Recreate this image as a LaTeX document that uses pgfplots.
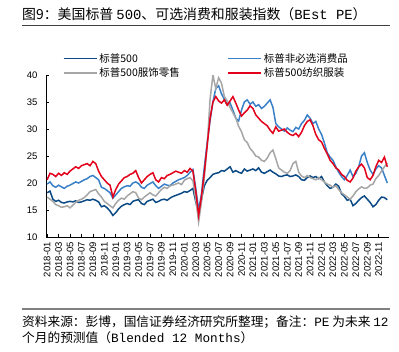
\documentclass[border=0pt]{standalone}
\usepackage{pgfplots}
\pgfplotsset{compat=1.18}
\usepackage{fontspec}
\setmainfont{Liberation Sans}
\newfontfamily\cjk{Noto Sans CJK SC}
\newfontfamily\mono{Liberation Mono}
\definecolor{cDB}{HTML}{0B4A84}
\definecolor{cLB}{HTML}{3A80C8}
\definecolor{cGR}{HTML}{A6A6A6}
\definecolor{cRD}{HTML}{E2001A}
\pgfplotstableread{
x y
0 18.2
0.5 18.5
1 17.0
1.5 16.6
2 16.8
2.5 16.4
3 16.3
3.5 16.5
4 16.6
4.5 16.5
5 16.7
5.5 16.4
6 16.5
6.5 16.7
7 16.9
7.5 16.8
8 17.0
8.5 16.8
9 16.5
9.5 15.6
10 15.8
10.5 15.4
11 14.8
11.5 14.0
12 14.5
12.5 15.2
13 15.7
13.5 16.0
14 16.2
14.5 16.0
15 16.6
15.5 16.8
16 16.9
16.5 16.2
17 16.0
17.5 16.6
18 16.8
18.5 17.0
19 16.4
19.5 16.6
20 16.9
20.5 17.0
21 16.8
21.5 17.2
22 17.5
22.5 17.7
23 17.9
23.5 18.1
24 18.4
24.5 18.3
25 18.6
25.5 19.0
26 16.5
26.5 14.3
27 17.0
27.5 19.5
28 20.5
28.5 21.0
29 21.6
29.5 21.8
30 21.9
30.5 22.3
31 22.2
31.5 22.6
32 23.0
32.5 22.0
33 22.3
33.5 22.0
34 21.8
34.5 22.6
35 22.2
35.5 22.4
36 22.6
36.5 22.3
37 22.8
37.5 22.0
38 21.8
38.5 22.1
39 22.4
39.5 22.0
40 21.7
40.5 21.3
41 21.2
41.5 21.4
42 21.5
42.5 21.2
43 21.3
43.5 21.5
44 21.2
44.5 20.6
45 20.5
45.5 21.0
46 21.3
46.5 21.0
47 21.2
47.5 20.8
48 21.2
48.5 20.2
49 19.5
49.5 19.0
50 19.2
50.5 19.8
51 19.4
51.5 18.0
52 17.5
52.5 16.8
53 17.0
53.5 15.8
54 16.2
54.5 16.8
55 17.3
55.5 17.6
56 17.0
56.5 16.4
57 15.6
57.5 16.0
58 16.8
58.5 17.4
59 17.3
59.5 16.9
}\spx
\pgfplotstableread{
x y
0 19.8
0.5 20.2
1 19.5
1.5 19.2
2 19.6
2.5 19.3
3 19.0
3.5 19.4
4 19.6
4.5 19.9
5 20.2
5.5 20.0
6 20.3
6.5 20.6
7 20.8
7.5 21.2
8 21.4
8.5 21.0
9 20.6
9.5 19.2
10 19.0
10.5 18.6
11 18.2
11.5 17.2
12 17.8
12.5 18.4
13 19.0
13.5 19.3
14 19.5
14.5 19.4
15 20.0
15.5 20.2
16 19.9
16.5 19.2
17 19.0
17.5 19.6
18 19.9
18.5 20.2
19 19.5
19.5 19.0
20 19.4
20.5 19.8
21 19.6
21.5 19.5
22 20.0
22.5 20.3
23 20.6
23.5 20.8
24 21.0
24.5 21.4
25 22.0
25.5 22.5
26 19.0
26.5 15.0
27 18.0
27.5 23.0
28 27.5
28.5 31.5
29 35.0
29.5 37.5
30 38.0
30.5 36.5
31 35.5
31.5 34.5
32 34.8
32.5 33.5
33 32.0
33.5 31.5
34 33.5
34.5 35.0
35 35.4
35.5 34.6
36 35.0
36.5 34.2
37 34.5
37.5 33.8
38 34.2
38.5 34.8
39 35.4
39.5 34.0
40 31.0
40.5 30.4
41 30.0
41.5 29.6
42 30.2
42.5 29.8
43 29.5
43.5 30.3
44 30.0
44.5 31.0
45 31.6
45.5 32.6
46 32.0
46.5 31.0
47 31.4
47.5 30.0
48 29.0
48.5 27.4
49 25.6
49.5 24.8
50 24.2
50.5 23.0
51 22.0
51.5 21.2
52 20.6
52.5 21.4
53 22.4
53.5 21.2
54 21.8
54.5 23.0
55 25.0
55.5 25.6
56 23.8
56.5 22.4
57 21.6
57.5 22.6
58 23.2
58.5 22.8
59 21.4
59.5 20.0
}\disc
\pgfplotstableread{
x y
0 17.4
0.5 17.0
1 16.6
1.5 16.0
2 15.8
2.5 15.5
3 15.6
3.5 15.8
4 15.4
4.5 15.9
5 16.4
5.5 16.8
6 17.0
6.5 17.3
7 17.8
7.5 18.4
8 18.6
8.5 18.8
9 18.0
9.5 17.4
10 16.6
10.5 16.2
11 15.8
11.5 15.4
12 16.2
12.5 16.8
13 17.2
13.5 17.0
14 17.6
14.5 18.0
15 18.4
15.5 18.2
16 17.2
16.5 16.9
17 17.4
17.5 17.8
18 18.2
18.5 17.8
19 17.6
19.5 18.2
20 18.8
20.5 19.2
21 19.0
21.5 19.5
22 19.6
22.5 19.8
23 20.0
23.5 19.7
24 20.5
24.5 20.8
25 21.0
25.5 20.4
26 17.0
26.5 12.8
27 16.5
27.5 21.0
28 27.0
28.5 35.5
29 40.0
29.5 37.5
30 39.5
30.5 38.5
31 36.0
31.5 35.2
32 34.0
32.5 33.0
33 32.0
33.5 30.5
34 29.5
34.5 28.0
35 27.5
35.5 26.4
36 25.8
36.5 25.0
37 24.8
37.5 24.2
38 24.0
38.5 24.6
39 25.6
39.5 26.1
40 24.5
40.5 22.8
41 22.4
41.5 22.0
42 21.8
42.5 22.3
43 23.6
43.5 24.0
44 22.0
44.5 21.3
45 21.0
45.5 21.4
46 21.0
46.5 20.8
47 20.6
47.5 21.0
48 20.6
48.5 20.2
49 19.8
49.5 19.6
50 19.2
50.5 19.5
51 18.8
51.5 18.2
52 17.8
52.5 17.4
53 17.0
53.5 17.6
54 18.4
54.5 18.9
55 19.3
55.5 19.0
56 19.1
56.5 19.6
57 19.8
57.5 20.8
58 21.4
58.5 22.2
59 23.0
59.5 23.7
}\retail
\pgfplotstableread{
x y
0 20.6
0.5 21.8
1 21.6
1.5 21.2
2 21.8
2.5 21.4
3 21.9
3.5 21.6
4 22.2
4.5 22.6
5 23.0
5.5 22.7
6 23.2
6.5 23.4
7 23.6
7.5 23.2
8 24.0
8.5 23.6
9 22.2
9.5 21.2
10 20.6
10.5 20.0
11 19.6
11.5 17.4
12 18.8
12.5 19.8
13 20.4
13.5 21.0
14 21.2
14.5 21.6
15 21.8
15.5 22.3
16 21.0
16.5 20.0
17 20.6
17.5 21.2
18 21.6
18.5 21.9
19 20.6
19.5 20.2
20 21.0
20.5 20.8
21 21.4
21.5 21.6
22 21.9
22.5 22.2
23 22.0
23.5 21.8
24 22.3
24.5 22.0
25 22.7
25.5 22.2
26 18.5
26.5 14.0
27 17.5
27.5 22.0
28 27.0
28.5 32.0
29 35.0
29.5 36.0
30 35.2
30.5 34.8
31 35.4
31.5 34.4
32 35.2
32.5 36.0
33 34.8
33.5 33.5
34 32.4
34.5 33.0
35 33.5
35.5 34.3
36 33.8
36.5 32.6
37 32.0
37.5 31.4
38 31.0
38.5 30.6
39 29.8
39.5 29.2
40 30.4
40.5 29.6
41 29.8
41.5 30.0
42 29.4
42.5 29.0
43 28.8
43.5 29.2
44 28.6
44.5 29.4
45 30.6
45.5 31.4
46 31.7
46.5 30.6
47 29.0
47.5 28.0
48 27.6
48.5 26.4
49 25.4
49.5 24.2
50 23.6
50.5 22.8
51 22.4
51.5 21.6
52 21.2
52.5 20.5
53 20.2
53.5 20.9
54 22.2
54.5 23.0
55 23.5
55.5 22.8
56 21.0
56.5 20.6
57 21.4
57.5 23.0
58 24.2
58.5 23.8
59 24.8
59.5 23.0
}\textile
\begin{document}
\begin{tikzpicture}
\path[use as bounding box] (0pt,0pt) rectangle (399pt,-351pt);
\node[anchor=west, inner sep=0pt, font=\cjk\fontsize{13.9}{15}\selectfont] at (22pt,-14pt)
  {图9：美国标普 {\mono 500}、可选消费和服装指数（{\mono BEst PE}）};
\draw[black!75, line width=0.8pt] (22pt,-25.5pt) -- (390pt,-25.5pt);
\draw[black!50, line width=1.5pt] (22pt,-309pt) -- (390pt,-309pt);
\node[anchor=west, inner sep=0pt, font=\cjk\fontsize{12.7}{14}\selectfont] at (22pt,-322pt)
  {资料来源：彭博，国信证券经济研究所整理；备注：{\mono PE} 为未来 {\mono 12}};
\node[anchor=west, inner sep=0pt, font=\cjk\fontsize{12.7}{14}\selectfont] at (22pt,-338pt)
  {个月的预测值（{\mono Blended 12 Months}）};
\begin{axis}[
  at={(46pt,-237pt)}, anchor=south west,
  scale only axis, width=343pt, height=162pt,
  xmin=-0.2, xmax=59.8, ymin=10, ymax=40,
  axis x line*=bottom, axis y line*=left,
  axis line style={black, line width=0.7pt},
  tick align=inside, major tick length=3.5pt,
  tick style={black, line width=0.6pt},
  xtick={0,2,...,58},
  xticklabels={2018-01,2018-03,2018-05,2018-07,2018-09,2018-11,
    2019-01,2019-03,2019-05,2019-07,2019-09,2019-11,
    2020-01,2020-03,2020-05,2020-07,2020-09,2020-11,
    2021-01,2021-03,2021-05,2021-07,2021-09,2021-11,
    2022-01,2022-03,2022-05,2022-07,2022-09,2022-11},
  x tick label style={rotate=90, anchor=east, font=\fontsize{9.5}{10}\selectfont, inner sep=1pt, xshift=-4pt},
  ytick={10,15,...,40},
  y tick label style={font=\fontsize{9.5}{10}\selectfont, xshift=-5pt},
  /pgf/number format/assume math mode=true,
  legend columns=2,
  legend cell align=left,
  legend image code/.code={\draw[#1] (0pt,0pt) -- (33pt,0pt);},
  legend style={at={(0.04,1.16)}, anchor=north west, draw=none, fill=none,
    font=\cjk\fontsize{10.5}{12}\selectfont, row sep=0pt,
    nodes={text width=126pt, inner sep=2pt}},
]
\addplot[cDB, line width=1.5pt] table[x=x,y=y] {\spx};
\addlegendentry{标普500}
\addplot[cLB, line width=1.5pt] table[x=x,y=y] {\disc};
\addlegendentry{标普非必选消费品}
\addplot[cGR, line width=1.5pt] table[x=x,y=y] {\retail};
\addlegendentry{标普500服饰零售}
\addplot[cRD, line width=1.5pt] table[x=x,y=y] {\textile};
\addlegendentry{标普500纺织服装}
\end{axis}
\end{tikzpicture}
\end{document}
